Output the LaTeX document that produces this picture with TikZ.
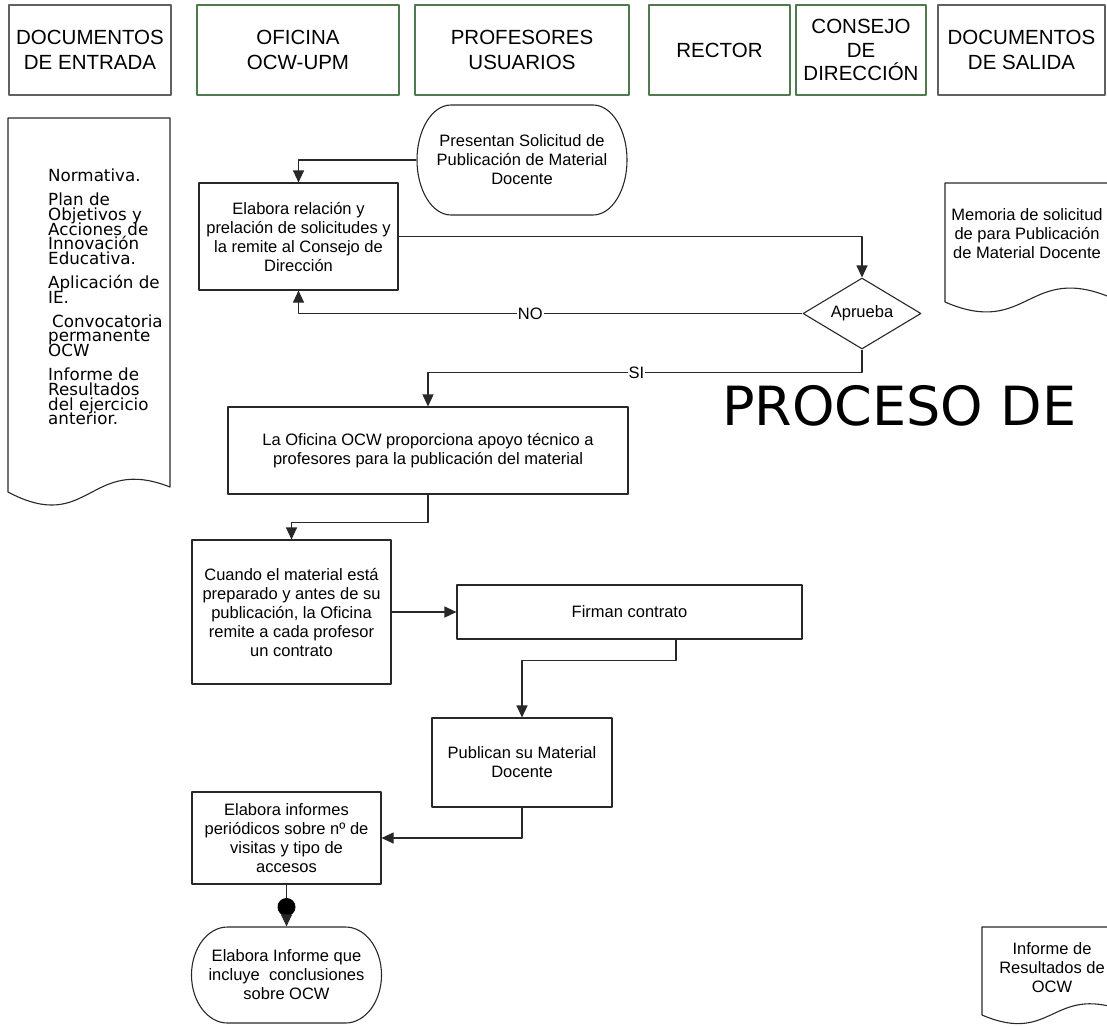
\documentclass[tikz,border=0pt]{standalone}
\usepackage{fontspec}
\setmainfont{Liberation Sans}
\newfontfamily\verd{DejaVu Sans}
\usetikzlibrary{shapes.geometric,arrows.meta}
\definecolor{hdrgreen}{RGB}{78,122,78}
\definecolor{hdrgray}{RGB}{96,96,96}
\definecolor{edge}{RGB}{40,40,40}
\newcommand{\flowfont}{\fontsize{16.5}{19}\selectfont}
\newcommand{\hdrfont}{\fontsize{20.5}{25}\selectfont}
\newcommand{\docfont}{\verd\fontsize{16.7}{14.7}\selectfont\lineskiplimit=-20pt\relax}
% contorno de terminal: x0 y0 x1 y1 rx
\newcommand{\terminal}[5]{%
	\pgfmathsetmacro{\ym}{(#2+#4)/2}\pgfmathsetmacro{\ry}{(#4-#2)/2}%
	\pgfmathsetmacro{\kx}{0.5523*#5}\pgfmathsetmacro{\ky}{0.5523*\ry}%
	\draw[draw=edge,line width=1.1pt] ({#1+#5},#2) -- ({#3-#5},#2)
		.. controls ({#3-#5+\kx},#2) and (#3,{\ym-\ky}) .. (#3,\ym)
		.. controls (#3,{\ym+\ky}) and ({#3-#5+\kx},#4) .. ({#3-#5},#4)
		-- ({#1+#5},#4)
		.. controls ({#1+#5-\kx},#4) and (#1,{\ym+\ky}) .. (#1,\ym)
		.. controls (#1,{\ym-\ky}) and ({#1+#5-\kx},#2) .. cycle;}

\begin{document}
\begin{tikzpicture}[x=1pt,y=-1pt,line join=round,
	hdr/.style={draw=hdrgreen,line width=1.2pt,minimum height=90pt,align=center,font=\hdrfont,inner sep=0pt},
	hdrdoc/.style={hdr,draw=hdrgray},
	proc/.style={draw=edge,line width=1.1pt,align=center,font=\flowfont,inner sep=0pt},
	term/.style={proc,draw=none},
	dec/.style={proc,diamond,aspect=1.66},
	doc/.style={draw=edge,line width=1.1pt},
	link/.style={draw=edge,line width=1.1pt,-{Triangle[length=12pt,width=11pt]}},
	lbl/.style={fill=white,font=\flowfont,inner sep=1pt}]
	\useasboundingbox (0,0) rectangle (1107,1026);
	\clip (0,0) rectangle (1107,1026);
	% cabecera de columnas
	\node[hdrdoc,minimum width=162pt] (hEnt) at (90,50) {DOCUMENTOS\\DE ENTRADA};
	\node[hdr,minimum width=202pt] (hOfi) at (298,50) {OFICINA\\OCW-UPM};
	\node[hdr,minimum width=214pt] (hPro) at (522,50) {PROFESORES\\USUARIOS};
	\node[hdr,minimum width=141pt] (hRec) at (719.5,50) {RECTOR};
	\node[hdr,minimum width=130pt,font=\fontsize{20.5}{23.5}\selectfont] (hCon) at (861,50) {CONSEJO\\DE\\DIRECCIÓN};
	\node[hdrdoc,minimum width=167pt] (hSal) at (1021.5,50) {DOCUMENTOS\\DE SALIDA};
	% documentos
	\draw[doc] (8,118) -- (8,492) .. controls (89,535) and (89,455) .. (170,487) -- (170,118) -- cycle;
	\node[font=\docfont,align=left,anchor=west,inner sep=0pt] (entr) at (48,297)
		{Normativa.\\[9.3pt]Plan de\\Objetivos y\\Acciones de\\Innovación\\Educativa.\\[9.3pt]Aplicación de\\IE.\\[9.3pt]\hspace*{4pt}Convocatoria\\permanente\\OCW\\[9.3pt]Informe de\\Resultados\\del ejercicio\\anterior.};
	\draw[doc] (945,183) -- (945,302) .. controls (1028,338) and (1028,262) .. (1112,298) -- (1112,183) -- cycle;
	\node[font=\flowfont,align=center,inner sep=0pt] (memo) at (1027,234) {Memoria de solicitud\\de para Publicación\\de Material Docente};
	\draw[doc] (982,927) -- (982,1015) .. controls (1052,1045) and (1052,985) .. (1122,1010) -- (1122,927) -- cycle;
	\node[font=\flowfont,align=center,inner sep=0pt] (infRes) at (1052,968) {Informe de\\Resultados de\\OCW};
	\node[font=\verd\fontsize{54}{60}\selectfont,anchor=base west,inner sep=0pt] (titulo) at (722,425) {PROCESO DE};
	% flujo
	\node[term,minimum width=210pt,minimum height=110pt] (sol) at (522,160) {Presentan Solicitud de\\Publicación de Material\\Docente};
	\terminal{417}{105}{627}{215}{34}
	\node[proc,minimum width=199pt,minimum height=107pt] (rel) at (298.5,236.5) {Elabora relación y\\prelación de solicitudes y\\la remite al Consejo de\\Dirección};
	\node[dec,minimum width=118pt,minimum height=71pt] (apr) at (862,313.5) {Aprueba};
	\node[proc,minimum width=400pt,minimum height=87pt] (apoyo) at (428,450.5) {La Oficina OCW proporciona apoyo técnico a\\profesores para la publicación del material};
	\node[proc,minimum width=199pt,minimum height=144pt] (contr) at (291.5,612) {Cuando el material está\\preparado y antes de su\\publicación, la Oficina\\remite a cada profesor\\un contrato};
	\node[proc,minimum width=345pt,minimum height=54pt] (firma) at (629.5,612) {Firman contrato};
	\node[proc,minimum width=180pt,minimum height=89pt] (publ) at (522,762.5) {Publican su Material\\Docente};
	\node[proc,minimum width=189pt,minimum height=92pt] (infor) at (286.5,838) {Elabora informes\\periódicos sobre nº de\\visitas y tipo de\\accesos};
	\node[circle,fill=black,minimum size=18pt,inner sep=0pt] (punto) at (286.5,907) {};
	\node[term,minimum width=190pt,minimum height=96pt] (concl) at (286.5,975) {Elabora Informe que\\incluye\ \ conclusiones\\sobre OCW};
	\terminal{191.5}{927}{381.5}{1023}{36}
	% conectores
	\draw[link] (sol.west) -| (rel.north);
	\draw[link] (rel.east) -| (apr.north);
	\draw[link] (apr.west) -| node[lbl,pos=0.27]{NO} (rel.south);
	\draw[link] (apr.south) -- ++(0,23) -| node[lbl,pos=0.26]{SI} (apoyo.north);
	\draw[link] (apoyo.south) -- ++(0,28) -| (contr.north);
	\draw[link] (contr.east) -- (firma.west);
	\draw[link] ([xshift=46.5pt]firma.south) -- ++(0,21) -| (publ.north);
	\draw[link] (publ.south) |- (infor.east);
	\draw[draw=edge,line width=1.1pt] (infor.south) -- (punto);
	\draw[link] (punto) -- (concl.north);
\end{tikzpicture}
\end{document}
